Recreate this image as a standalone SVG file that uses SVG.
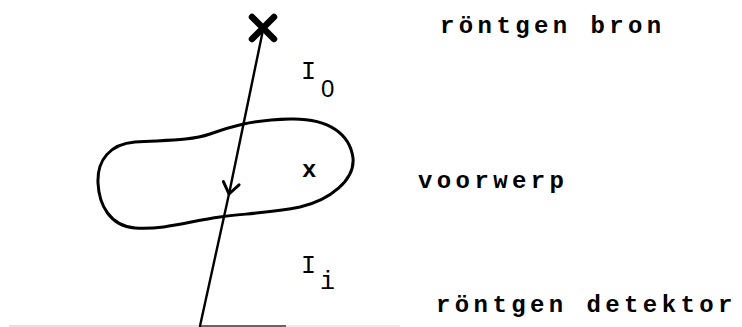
<svg xmlns="http://www.w3.org/2000/svg" width="742" height="327" viewBox="0 0 742 327">
<style>
  .lbl { font-family: "Liberation Mono", "DejaVu Sans Mono", monospace; font-size: 24px; font-weight: bold; fill: #000; letter-spacing: 4.4px; }
  .sym { font-family: "Liberation Mono", "DejaVu Sans Mono", monospace; font-size: 25px; fill: #000; }
  .num { font-family: "Liberation Sans", "DejaVu Sans", sans-serif; font-size: 24px; fill: #000; }
  .ink { fill: none; stroke: #000; stroke-linecap: round; stroke-linejoin: round; }
</style>
<defs>
  <marker id="arr" viewBox="0 0 20 20" refX="14" refY="10" markerWidth="20" markerHeight="20" markerUnits="userSpaceOnUse" orient="auto">
    <path d="M3,2 L14,10 L3,18" fill="none" stroke="#000" stroke-width="3" stroke-linecap="round" stroke-linejoin="round"/>
  </marker>
</defs>
<rect width="742" height="327" fill="#fff"/>
<g id="source">
  <path class="ink" d="M252,17 L274,39 M274,17 L252,39" stroke-width="6.5"/>
  <text class="lbl" x="440" y="33">röntgen bron</text>
</g>
<g id="object">
  <path class="ink" stroke-width="3" d="M98,183 C97,160 110,144 135,142 C165,140 190,141 210,134 C230,127 250,120 290,119 C330,118 350,135 353,158 C355,180 330,200 300,207 C270,213 240,214 220,217 C190,221 165,230 135,228 C110,226 99,205 98,183 Z"/>
  <text class="lbl" x="302" y="177">x</text>
  <text class="lbl" x="418" y="188">voorwerp</text>
</g>
<g id="detector">
  <line x1="9" y1="326" x2="200" y2="326" stroke="#d8d8d8" stroke-width="1.5"/>
  <line x1="200" y1="326" x2="286" y2="326" stroke="#333" stroke-width="1.5"/>
  <line x1="286" y1="326" x2="400" y2="326" stroke="#e4e4e4" stroke-width="1.5"/>
  <text class="lbl" x="436" y="312">röntgen detektor</text>
</g>
<g id="intensities">
  <text class="sym" x="301" y="79">I</text>
  <text class="num" x="321" y="97">0</text>
  <text class="sym" x="301" y="273">I</text>
  <text class="sym" x="320" y="289">i</text>
</g>
<g id="connectors">
  <line class="ink" x1="263" y1="30" x2="229" y2="194" stroke-width="2.4" marker-end="url(#arr)"/>
  <line class="ink" x1="229" y1="194" x2="200" y2="326" stroke-width="2.4"/>
</g>
</svg>
